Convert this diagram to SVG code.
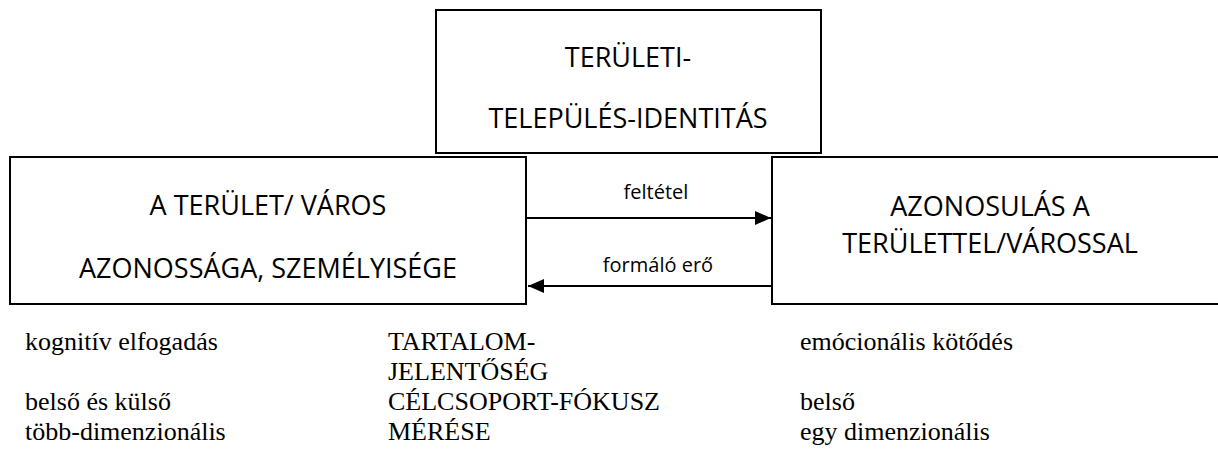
<svg xmlns="http://www.w3.org/2000/svg" width="1218" height="468" viewBox="0 0 1218 468">
<style>
.box{fill:#fff;stroke:#000;stroke-width:2}
.bt{font-family:"Open Sans","Liberation Sans",sans-serif;font-size:27px;fill:#000;text-anchor:middle}
.lbl{font-family:"Open Sans","Liberation Sans",sans-serif;font-size:20px;fill:#000;text-anchor:middle}
.tt{font-family:"Liberation Serif",serif;font-size:26px;fill:#000}
.con{stroke:#000;stroke-width:2;fill:none}
</style>
<defs>
<marker id="ah" markerWidth="16" markerHeight="14" refX="16" refY="7" orient="auto" markerUnits="userSpaceOnUse">
<path d="M0,0 L16,7 L0,14 z" fill="#000"/>
</marker>
</defs>
<rect width="1218" height="468" fill="#fff"/>
<g id="top">
<rect class="box" x="436" y="10" width="385" height="143"/>
<text class="bt" x="628" y="67">TERÜLETI-</text>
<text class="bt" x="628" y="128">TELEPÜLÉS-IDENTITÁS</text>
</g>
<g id="left">
<rect class="box" x="10" y="157" width="516" height="147"/>
<text class="bt" x="268" y="215">A TERÜLET/ VÁROS</text>
<text class="bt" x="268" y="278">AZONOSSÁGA, SZEMÉLYISÉGE</text>
</g>
<g id="right">
<rect class="box" x="772" y="157" width="460" height="147"/>
<text class="bt" x="990" y="216">AZONOSULÁS A</text>
<text class="bt" x="990" y="253">TERÜLETTEL/VÁROSSAL</text>
</g>
<g id="connectors">
<line class="con" x1="527" y1="218" x2="771" y2="218" marker-end="url(#ah)"/>
<line class="con" x1="772" y1="286" x2="528" y2="286" marker-end="url(#ah)"/>
<text class="lbl" x="656" y="199">feltétel</text>
<text class="lbl" x="658" y="272">formáló erő</text>
</g>
<g id="notes">
<text class="tt" x="25" y="350">kognitív elfogadás</text>
<text class="tt" x="25" y="410">belső és külső</text>
<text class="tt" x="25" y="440">több-dimenzionális</text>
<text class="tt" x="388" y="350">TARTALOM-</text>
<text class="tt" x="388" y="380">JELENTŐSÉG</text>
<text class="tt" x="388" y="410">CÉLCSOPORT-FÓKUSZ</text>
<text class="tt" x="388" y="440">MÉRÉSE</text>
<text class="tt" x="800" y="350">emócionális kötődés</text>
<text class="tt" x="800" y="410">belső</text>
<text class="tt" x="800" y="440">egy dimenzionális</text>
</g>
</svg>
